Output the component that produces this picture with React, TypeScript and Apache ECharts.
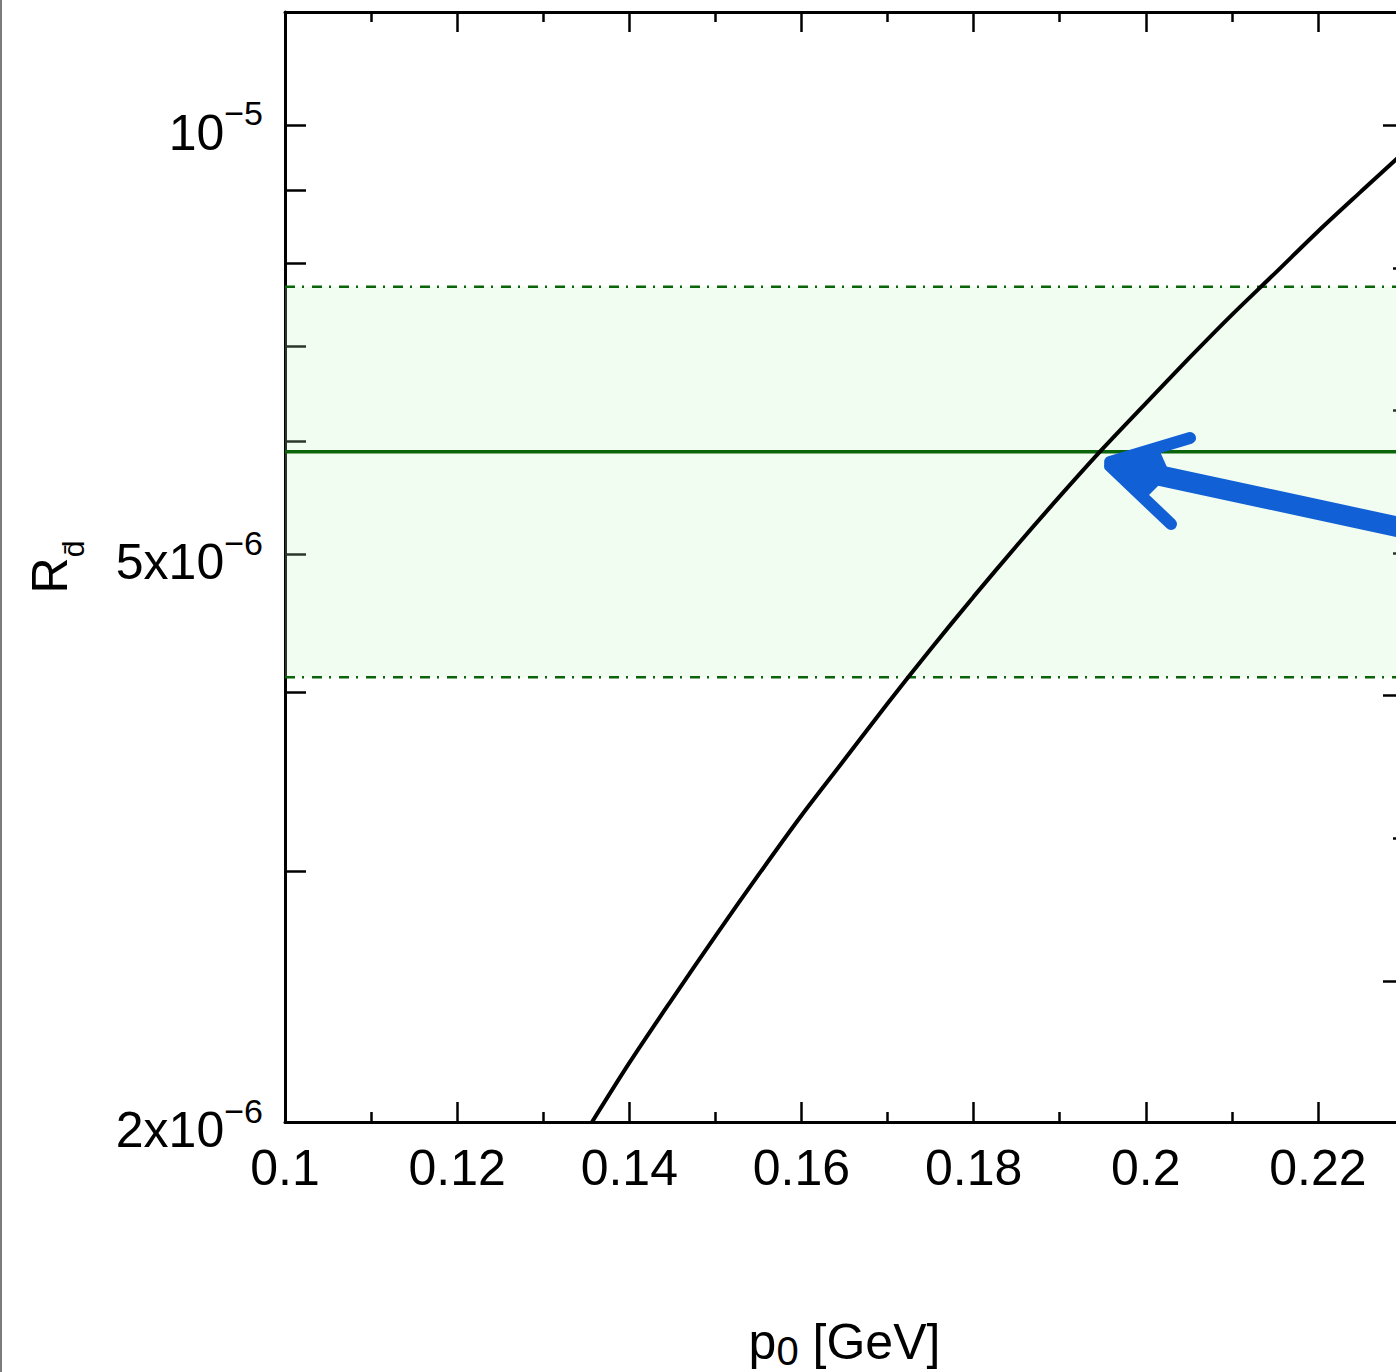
import React, { useEffect, useRef } from "react";
import * as echarts from "echarts";

// ---- data ----
const curveP = [0.135, 0.14, 0.145, 0.15, 0.155, 0.16, 0.165, 0.17, 0.175, 0.18, 0.185, 0.19, 0.195, 0.2, 0.205, 0.21, 0.215, 0.22, 0.225, 0.23];
const curveR = [1.97e-6, 2.2e-6, 2.44e-6, 2.7e-6, 2.98e-6, 3.28e-6, 3.59e-6, 3.93e-6, 4.29e-6, 4.67e-6, 5.07e-6, 5.49e-6, 5.93e-6, 6.38e-6, 6.86e-6, 7.36e-6, 7.87e-6, 8.42e-6, 8.98e-6, 9.57e-6];

const bandLow = 4.1e-6;
const bandHigh = 7.7e-6;
const bandCentral = 5.9e-6;

const xMin = 0.1;
const xMax = 0.23;
const xLabelValues = [0.1, 0.12, 0.14, 0.16, 0.18, 0.2, 0.22];
const xLabelText = ["0.1", "0.12", "0.14", "0.16", "0.18", "0.2", "0.22"];
const xMajorTicks = [0.12, 0.14, 0.16, 0.18, 0.2, 0.22];
const xMinorTicks = [0.11, 0.13, 0.15, 0.17, 0.19, 0.21];

const yMin = 2e-6;
const yMax = 1.2e-5;
const yTicks = [2e-6, 3e-6, 4e-6, 5e-6, 6e-6, 7e-6, 8e-6, 9e-6, 1e-5];
const yLabelValues = [2e-6, 5e-6, 1e-5];
const yLabelMantissa = ["2x10", "5x10", "10"];
const yLabelExponent = ["\u22126", "\u22126", "\u22125"];
const yRightMajorTicks = [1e-5, 3.98e-6, 2.51e-6];
const yRightMinorTicks = [7.94e-6, 6.31e-6, 5.01e-6, 3.16e-6];

const FONT = "'Liberation Sans', Arial, Helvetica, sans-serif";
const GREEN = "#0a640a";
const BLUE = "#1260d6";

export default function App() {
  const ref = useRef<HTMLDivElement>(null);
  useEffect(() => {
    if (!ref.current) return;
    const chart = echarts.init(ref.current, undefined, { renderer: "svg" });

    const axisLineStyle = { color: "#000", width: 3 };
    const tickStyle = { color: "#000", width: 2.5 };

    const xBase = (position: string, ticks: number[], len: number, showLine: boolean) => ({
      type: "value",
      min: xMin,
      max: xMax,
      position,
      axisLine: { show: showLine, onZero: false, lineStyle: axisLineStyle },
      axisTick: { show: true, inside: true, length: len, customValues: ticks, lineStyle: tickStyle },
      axisLabel: { show: false },
      splitLine: { show: false },
    });

    const yBase = (position: string, ticks: number[], len: number, showLine: boolean) => ({
      type: "log",
      logBase: 10,
      min: yMin,
      max: yMax,
      position,
      axisLine: { show: showLine, onZero: false, lineStyle: axisLineStyle },
      axisTick: { show: true, inside: true, length: len, customValues: ticks, lineStyle: tickStyle },
      axisLabel: { show: false },
      splitLine: { show: false },
      minorTick: { show: false },
    });

    const xMainAxis: any = xBase("bottom", xMajorTicks, 20, true);
    xMainAxis.axisLabel = {
      show: true,
      customValues: xLabelValues,
      formatter: (v: number) => {
        const i = xLabelValues.findIndex((x) => Math.abs(x - v) < 1e-9);
        return i >= 0 ? xLabelText[i] : "";
      },
      fontSize: 50,
      lineHeight: 50,
      color: "#000",
      fontFamily: FONT,
      margin: 21,
    };
    xMainAxis.name = "{m|p}{s|0}{m| [GeV]}";
    xMainAxis.nameLocation = "middle";
    xMainAxis.nameGap = 195;
    xMainAxis.nameTextStyle = {
      color: "#000",
      fontFamily: FONT,
      rich: {
        m: { fontSize: 50, lineHeight: 54, verticalAlign: "top", fontFamily: FONT, color: "#000" },
        s: { fontSize: 40, lineHeight: 30, verticalAlign: "bottom", fontFamily: FONT, color: "#000" },
      },
    };

    const yMainAxis: any = yBase("left", yTicks, 21, true);
    yMainAxis.axisLabel = {
      show: true,
      customValues: yLabelValues,
      formatter: (v: number) => {
        const i = yLabelValues.findIndex((x) => Math.abs(x - v) / x < 1e-3);
        return i >= 0 ? `{b|${yLabelMantissa[i]}}{s|${yLabelExponent[i]}}` : "";
      },
      margin: 22,
      padding: [16, 0, 0, 0],
      color: "#000",
      fontFamily: FONT,
      rich: {
        b: { fontSize: 50, lineHeight: 73, verticalAlign: "middle", fontFamily: FONT, color: "#000" },
        s: { fontSize: 34, lineHeight: 20, verticalAlign: "top", fontFamily: FONT, color: "#000" },
      },
    };
    yMainAxis.name = "{m|R}{s|d\u0304}";
    yMainAxis.nameLocation = "middle";
    yMainAxis.nameRotate = 90;
    yMainAxis.nameGap = 197;
    yMainAxis.nameTextStyle = {
      color: "#000",
      fontFamily: FONT,
      rich: {
        m: { fontSize: 50, lineHeight: 63, verticalAlign: "top", fontFamily: FONT, color: "#000" },
        s: { fontSize: 30, lineHeight: 10, verticalAlign: "bottom", fontFamily: FONT, color: "#000" },
      },
    };

    const hLine = (value: number, dashed: boolean, width: number) => ({
      type: "line",
      xAxisIndex: 0,
      yAxisIndex: 0,
      data: [
        [xMin, value],
        [xMax, value],
      ],
      showSymbol: false,
      silent: true,
      z: 3,
      lineStyle: { color: GREEN, width, type: dashed ? [10, 7, 2, 8] : "solid" },
    });

    const option: any = {
      animation: false,
      backgroundColor: "#fff",
      grid: {
        left: 285,
        top: 12,
        width: 1119,
        height: 1110,
        show: false,
        containLabel: false,
        outerBoundsMode: "none",
      },
      xAxis: [
        xMainAxis,
        xBase("bottom", xMinorTicks, 10, false),
        xBase("top", xMajorTicks, 20, true),
        xBase("top", xMinorTicks, 10, false),
      ],
      yAxis: [
        yMainAxis,
        yBase("right", yRightMajorTicks, 21, true),
        yBase("right", yRightMinorTicks, 11, false),
      ],
      series: [
        {
          ...hLine(bandCentral, false, 3.5),
          markArea: {
            silent: true,
            itemStyle: { color: "rgba(190,245,190,0.22)" },
            data: [[{ yAxis: bandLow }, { yAxis: bandHigh }]],
          },
        },
        hLine(bandLow, true, 2.5),
        hLine(bandHigh, true, 2.5),
        {
          type: "line",
          name: "curve",
          xAxisIndex: 0,
          yAxisIndex: 0,
          data: curveP.map((p, i) => [p, curveR[i]]),
          showSymbol: false,
          smooth: 0.3,
          lineStyle: { color: "#000", width: 4 },
          z: 5,
          silent: true,
        },
      ],
      graphic: [
        {
          type: "line",
          shape: { x1: 1, y1: 0, x2: 1, y2: 1372 },
          style: { stroke: "#7c7c7c", lineWidth: 2 },
          silent: true,
        },
        {
          type: "polygon",
          z: 100,
          shape: {
            points: [
              [1150, 463],
              [1410, 519],
              [1410, 540],
              [1150, 484],
            ],
          },
          style: { fill: BLUE },
          silent: true,
        },
        {
          type: "polygon",
          z: 100,
          shape: {
            points: [
              [1106, 463],
              [1158, 447],
              [1170, 474],
              [1148, 496],
            ],
          },
          style: { fill: BLUE },
          silent: true,
        },
        {
          type: "line",
          z: 100,
          shape: { x1: 1110, y1: 462, x2: 1190, y2: 438 },
          style: { stroke: BLUE, lineWidth: 12, lineCap: "round" },
          silent: true,
        },
        {
          type: "line",
          z: 100,
          shape: { x1: 1110, y1: 466, x2: 1171, y2: 524 },
          style: { stroke: BLUE, lineWidth: 12, lineCap: "round" },
          silent: true,
        },
      ],
    };

    chart.setOption(option);
    return () => chart.dispose();
  }, []);

  return (
    <div
      style={{
        position: "fixed",
        left: 0,
        top: 0,
        width: 1396,
        height: 1372,
        overflow: "hidden",
        background: "#fff",
      }}
    >
      <div ref={ref} style={{ width: 1410, height: 1372 }} />
    </div>
  );
}
